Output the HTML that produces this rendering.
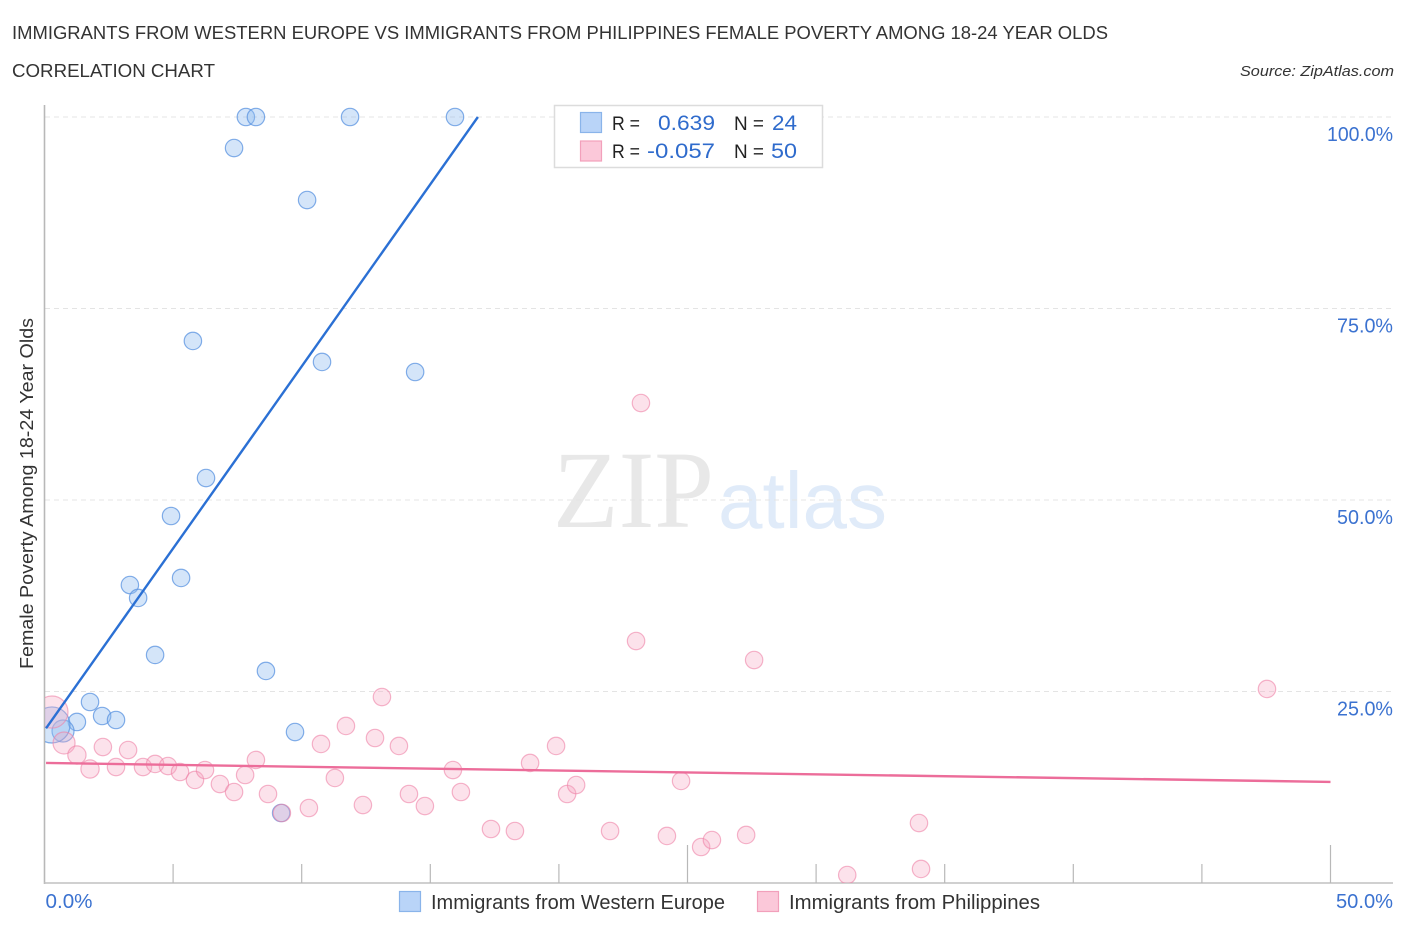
<!DOCTYPE html>
<html lang="en">
<head>
<meta charset="utf-8">
<title>Correlation Chart</title>
<style>
html,body{margin:0;padding:0;background:#fff;}
svg{display:block;font-family:"Liberation Sans",sans-serif;}
</style>
</head>
<body>
<svg id="chart" xmlns="http://www.w3.org/2000/svg" width="1406" height="930" viewBox="0 0 1406 930">
  <defs>
    <clipPath id="plot-clip"><rect x="45" y="100" width="1350" height="783"/></clipPath>
  </defs>
  <text x="12" y="39" font-size="18" fill="#333" textLength="1096" lengthAdjust="spacingAndGlyphs">IMMIGRANTS FROM WESTERN EUROPE VS IMMIGRANTS FROM PHILIPPINES FEMALE POVERTY AMONG 18-24 YEAR OLDS</text>
  <text x="12" y="77" font-size="18" fill="#333" textLength="203" lengthAdjust="spacingAndGlyphs">CORRELATION CHART</text>
  <text x="1394" y="76" font-size="15" font-style="italic" fill="#333" text-anchor="end" textLength="154" lengthAdjust="spacingAndGlyphs">Source: ZipAtlas.com</text>

  <g>
    <text x="553" y="527" font-family="'Liberation Serif',serif" font-size="110" fill="#e8e8e8" textLength="161" lengthAdjust="spacingAndGlyphs">ZIP</text>
    <text x="718" y="528" font-size="80" fill="#e0ebf9" textLength="169" lengthAdjust="spacingAndGlyphs">atlas</text>
  </g>

  <g id="grid"></g>
  <g id="axes"></g>
  <g id="tick-labels"></g>
  <g clip-path="url(#plot-clip)">
    <g id="points-blue"></g>
    <g id="points-pink"></g>
    <g id="trends"></g>
  </g>

  <text transform="translate(33,493.5) rotate(-90)" font-size="18" fill="#333" text-anchor="middle" textLength="351" lengthAdjust="spacingAndGlyphs">Female Poverty Among 18-24 Year Olds</text>

  <g>
    <rect x="554.5" y="105.5" width="268" height="62" fill="#fff" stroke="#dcdcdc" stroke-width="1.5"/>
    <rect x="580.5" y="112.5" width="21" height="20" fill="#b9d4f8" stroke="#8ab4ea" stroke-width="1.2"/>
    <rect x="580.5" y="141" width="21" height="20" fill="#fbc8d9" stroke="#f2a0bb" stroke-width="1.2"/>
    <text x="612" y="130" font-size="19" fill="#222" textLength="28" lengthAdjust="spacingAndGlyphs">R =</text>
    <text x="658" y="130" font-size="21" fill="#2f6bcc" textLength="57" lengthAdjust="spacingAndGlyphs">0.639</text>
    <text x="734" y="130" font-size="19" fill="#222" textLength="30" lengthAdjust="spacingAndGlyphs">N =</text>
    <text x="772" y="130" font-size="21" fill="#2f6bcc" textLength="25" lengthAdjust="spacingAndGlyphs">24</text>
    <text x="612" y="158" font-size="19" fill="#222" textLength="28" lengthAdjust="spacingAndGlyphs">R =</text>
    <text x="647" y="158" font-size="21" fill="#2f6bcc" textLength="68" lengthAdjust="spacingAndGlyphs">-0.057</text>
    <text x="734" y="158" font-size="19" fill="#222" textLength="30" lengthAdjust="spacingAndGlyphs">N =</text>
    <text x="771" y="158" font-size="21" fill="#2f6bcc" textLength="26" lengthAdjust="spacingAndGlyphs">50</text>
  </g>

  <g>
    <rect x="399.5" y="891.5" width="21" height="20" fill="#b9d4f8" stroke="#8ab4ea" stroke-width="1.2"/>
    <text x="431" y="909" font-size="20" fill="#333" textLength="294" lengthAdjust="spacingAndGlyphs">Immigrants from Western Europe</text>
    <rect x="757.5" y="891.5" width="21" height="20" fill="#fbc8d9" stroke="#f2a0bb" stroke-width="1.2"/>
    <text x="789" y="909" font-size="20" fill="#333" textLength="251" lengthAdjust="spacingAndGlyphs">Immigrants from Philippines</text>
  </g>
</svg>
<script>
const blueX = [7.83,8.22,11.88,15.96,7.37,10.21,5.77,10.79,14.41,6.28,4.92,5.31,3.32,3.64,4.30,8.61,1.77,2.24,2.78,1.26,9.74,0.72,0.29,9.20];
const blueY = [100,100,100,100,95.95,89.16,70.76,68.02,66.71,52.87,47.91,39.82,38.90,37.21,29.77,27.68,23.63,21.80,21.28,21.02,19.71,19.84,20.63,9.14];
const blueWeight = [1,1,1,1,1,1,1,1,1,1,1,1,1,1,1,1,1,1,1,1,1,1.6,4.3,1];
const pinkX = [0.29,0.76,1.26,2.27,3.25,1.77,2.78,3.83,4.30,4.80,5.27,5.85,6.24,6.82,7.37,7.80,8.22,8.69,9.23,10.28,10.75,11.29,11.72,12.38,12.85,13.12,13.78,14.17,14.79,15.88,16.19,17.36,18.29,18.88,19.89,20.32,20.67,21.99,23.00,23.19,24.20,24.75,25.53,25.95,27.28,27.59,31.21,34.00,34.08,47.53];
const pinkY = [22.32,18.28,16.71,17.75,17.36,14.88,15.14,15.14,15.54,15.27,14.49,13.45,14.75,12.92,11.88,14.10,16.06,11.62,9.14,9.79,18.15,13.71,20.50,10.18,18.93,24.28,17.89,11.62,10.05,14.75,11.88,7.05,6.79,15.67,17.89,11.62,12.79,6.79,31.59,62.66,6.14,13.32,4.70,5.61,6.27,29.11,1.04,7.83,1.83,25.33];
const pinkWeight = [3.4,1.6,1.1,1,1,1.1,1,1,1,1,1,1,1,1,1,1,1,1,1,1,1,1,1,1,1,1,1,1,1,1,1,1,1,1,1,1,1,1,1,1,1,1,1,1,1,1,1,1,1,1];
const blueTrendX = [0.06,16.85];
const blueTrendY = [20.2,100];
const pinkTrendX = [0.06,50];
const pinkTrendY = [15.67,13.2];
const yTicks = [25,50,75,100];
const yTickLabels = ["25.0%","50.0%","75.0%","100.0%"];
const xMinorTicks = [5,10,15,20,30,35,40,45];
const xMajorTicks = [25,50];
const xEndValues = [0,50];
const xEndLabels = ["0.0%","50.0%"];

const NS = "http://www.w3.org/2000/svg";
function sx(v){ return 44.5 + v * 25.72; }
function sy(v){ return 883 - v * 7.66; }
function radius(w){ return 8.7 * Math.sqrt(w); }
function labelWidth(s){ return s.length >= 6 ? 66 : 56; }
function make(tag, attrs, parent){
  const el = document.createElementNS(NS, tag);
  for (const k in attrs) el.setAttribute(k, attrs[k]);
  parent.appendChild(el);
  return el;
}

const grid = document.getElementById("grid");
const axes = document.getElementById("axes");
const labels = document.getElementById("tick-labels");

yTicks.forEach(function(t, i){
  const ln = make("line", {x1:45, x2:1393, y1:sy(t), y2:sy(t), stroke:"#e4e4e4", "stroke-width":1, "stroke-dasharray":"5 4"}, grid);
  
  
  const tx = make("text", {x:1393, y:sy(t) + 24, "font-size":20, fill:"#3b72d0", "text-anchor":"end", textLength:labelWidth(yTickLabels[i]), lengthAdjust:"spacingAndGlyphs"}, labels);
  tx.textContent = yTickLabels[i];
  
  
});

const yAxis = make("line", {x1:44.5, x2:44.5, y1:105, y2:884, stroke:"#b8b8b8", "stroke-width":1.6}, axes);


const xAxis = make("line", {x1:44, x2:1393, y1:883, y2:883, stroke:"#c0c0c0", "stroke-width":1.6}, axes);



xMinorTicks.forEach(function(t){
  const ln = make("line", {x1:sx(t), x2:sx(t), y1:864, y2:883, stroke:"#b8b8b8", "stroke-width":1.2}, axes);
  
  
});
xMajorTicks.forEach(function(t){
  const ln = make("line", {x1:sx(t), x2:sx(t), y1:845, y2:883, stroke:"#b8b8b8", "stroke-width":1.2}, axes);
  
  
});

xEndValues.forEach(function(v, i){
  const tx = make("text", {x: i === 0 ? sx(v) + 1 : 1393, y:908, "font-size":20, fill:"#3b72d0", "text-anchor": i === 0 ? "start" : "end", textLength: i === 0 ? 47 : 57, lengthAdjust:"spacingAndGlyphs"}, labels);
  tx.textContent = xEndLabels[i];
  
  
});

const gBlue = document.getElementById("points-blue");
blueX.forEach(function(v, i){
  const c = make("circle", {cx:sx(v), cy:sy(blueY[i]), r:radius(blueWeight[i]), fill:"#8fbaf0", "fill-opacity":0.38, stroke:"#5a93e0", "stroke-opacity":0.75, "stroke-width":1.2}, gBlue);
  
  
});
const gPink = document.getElementById("points-pink");
pinkX.forEach(function(v, i){
  const c = make("circle", {cx:sx(v), cy:sy(pinkY[i]), r:radius(pinkWeight[i]), fill:"#f7a8c2", "fill-opacity":0.33, stroke:"#ee82a6", "stroke-opacity":0.6, "stroke-width":1.2}, gPink);
  
  
});

const gTrend = document.getElementById("trends");
const tBlue = make("line", {x1:sx(blueTrendX[0]), y1:sy(blueTrendY[0]), x2:sx(blueTrendX[1]), y2:sy(blueTrendY[1]), stroke:"#2b70d4", "stroke-width":2.4}, gTrend);


const tPink = make("line", {x1:sx(pinkTrendX[0]), y1:sy(pinkTrendY[0]), x2:sx(pinkTrendX[1]), y2:sy(pinkTrendY[1]), stroke:"#ec6d9a", "stroke-width":2.4}, gTrend);


</script>
</body>
</html>
